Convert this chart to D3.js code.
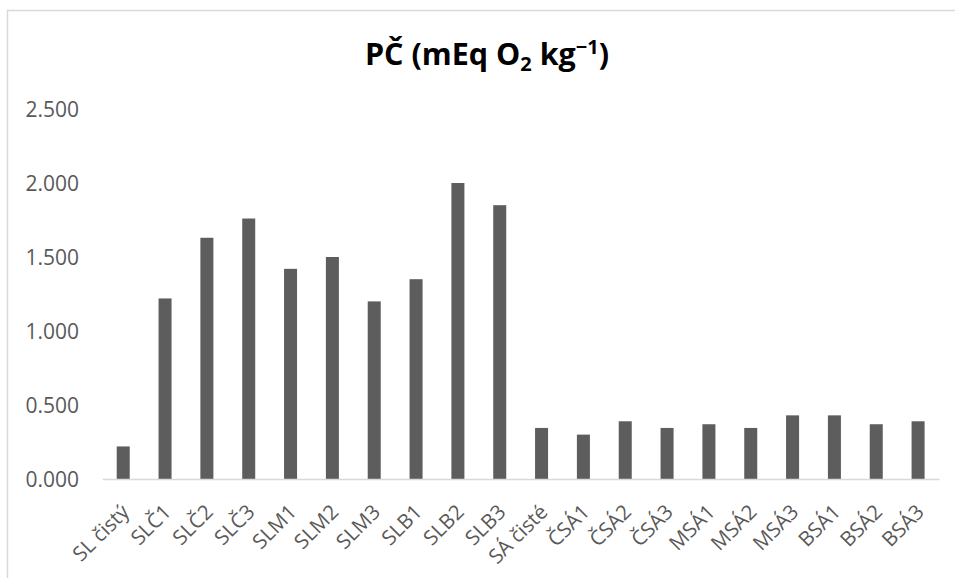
<!DOCTYPE html>
<html>
<head>
<meta charset="utf-8">
<script src="https://cdn.jsdelivr.net/npm/d3@7"></script>
<style>
  html, body { margin: 0; padding: 0; background: #fff; }
  svg { display: block; }
</style>
</head>
<body>
<svg id="chart" width="955" height="578"></svg>
<script>
// Samples and their peroxide values (mEq O2 per kg)
const categories = [
  "SL čistý", "SLČ1", "SLČ2", "SLČ3", "SLM1", "SLM2", "SLM3",
  "SLB1", "SLB2", "SLB3", "SÁ čisté", "ČSÁ1", "ČSÁ2", "ČSÁ3",
  "MSÁ1", "MSÁ2", "MSÁ3", "BSÁ1", "BSÁ2", "BSÁ3"
];
const values = [
  0.22, 1.22, 1.63, 1.76, 1.42, 1.50, 1.20,
  1.35, 2.00, 1.85, 0.345, 0.30, 0.39, 0.345,
  0.37, 0.345, 0.43, 0.43, 0.37, 0.39
];
const yTicks = [0, 0.5, 1.0, 1.5, 2.0, 2.5];

const svg = d3.select("#chart");
const font = "'Open Sans', 'Noto Sans', sans-serif";
const textGray = "#595959";
const lineGray = "#d9d9d9";

// chart frame (only left and top edges fall inside the view)
svg.append("rect")
  .attr("x", 7.5).attr("y", 10.5)
  .attr("width", 1000).attr("height", 600)
  .attr("fill", "none")
  .attr("stroke", lineGray)
  .attr("stroke-width", 1.5);

const x = d3.scaleBand()
  .domain(categories)
  .range([102.3, 939])
  .paddingInner(0.689)
  .paddingOuter(0.3445);

const y = d3.scaleLinear().domain([0, 2.5]).range([479, 109]);

// title
const title = svg.append("text")
  .attr("x", 487).attr("y", 65)
  .attr("text-anchor", "middle")
  .attr("font-family", font)
  .attr("font-weight", "bold")
  .attr("font-size", 30.5)
  .attr("fill", "#000");
title.append("tspan").text("PČ (mEq O");
title.append("tspan").attr("font-size", 20).attr("dy", 6).text("2");
title.append("tspan").attr("dy", -6).text(" kg");
title.append("tspan").attr("font-size", 20).attr("dy", -11).text("−1");
title.append("tspan").attr("dy", 11).text(")");

// y axis labels (no axis line, no gridlines)
const yAxis = d3.axisLeft(y)
  .tickValues(yTicks)
  .tickFormat(d3.format(".3f"))
  .tickSize(0)
  .tickPadding(0);
const gy = svg.append("g")
  .attr("transform", "translate(79,0)")
  .call(yAxis);
gy.select(".domain").remove();
gy.selectAll("text")
  .attr("font-family", font)
  .attr("font-size", 21)
  .attr("fill", textGray)
  .attr("dy", "0.35em");

// bars
svg.append("g").selectAll("rect")
  .data(values)
  .join("rect")
  .attr("x", (d, i) => x(categories[i]))
  .attr("width", x.bandwidth())
  .attr("y", d => y(d))
  .attr("height", d => y(0) - y(d))
  .attr("fill", "#5d5d5d");

// category axis with labels turned 45°
const xAxis = d3.axisBottom(x).tickSize(0).tickPadding(0);
const gx = svg.append("g")
  .attr("transform", `translate(0,${y(0)})`)
  .call(xAxis);
gx.select(".domain")
  .attr("stroke", lineGray)
  .attr("stroke-width", 1.5);
gx.selectAll(".tick text")
  .attr("font-family", font)
  .attr("font-size", 20.5)
  .attr("fill", textGray)
  .attr("text-anchor", "end")
  .attr("y", 0)
  .attr("dy", "0.71em")
  .attr("transform", "translate(-3,24) rotate(-45)");
</script>
</body>
</html>
